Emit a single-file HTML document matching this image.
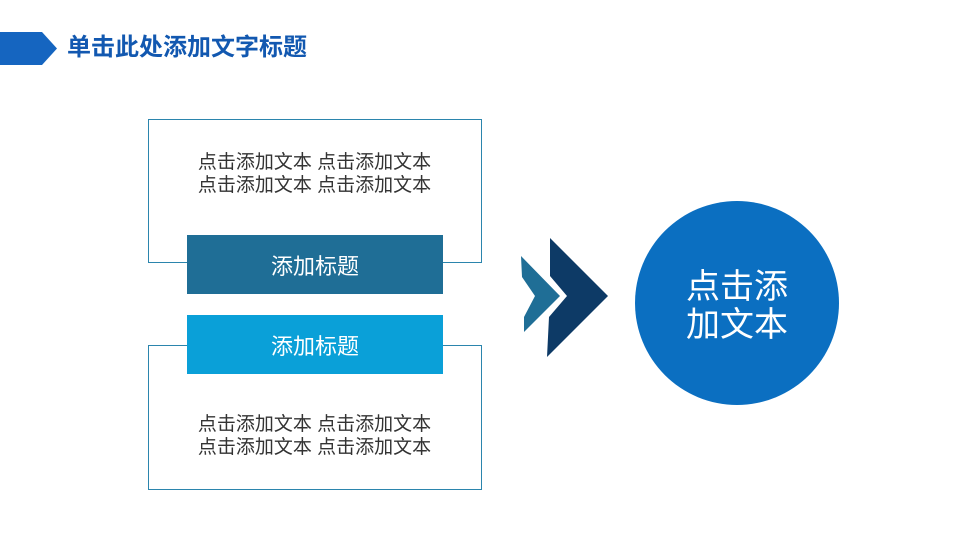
<!DOCTYPE html>
<html><head><meta charset="utf-8"><style>
body{margin:0;width:960px;height:540px;background:#fff;position:relative;overflow:hidden;font-family:"Liberation Sans","Noto Sans CJK SC",sans-serif}
.a{position:absolute}
.box{position:absolute;border:1px solid #2b85ad;box-sizing:border-box}
.t{position:absolute;left:148px;width:333px;text-align:center;font-size:19px;line-height:23px;color:#333}
.lab{position:absolute;left:187px;width:256px;height:59px;line-height:63px;text-align:center;color:#fff;font-size:22px}
</style></head><body>
<svg class="a" style="left:0;top:0" width="960" height="540">
<polygon points="0,32 42,32 57,48.5 42,65 0,65" fill="#1565c0"/>
<polygon points="521,256 560,296 524,332 524,317 535,296 522,277" fill="#1f6e96"/>
<polygon points="550,238 608,296 547,357 549,317 567,296 550,276" fill="#0d3a66"/>
<circle cx="737" cy="303" r="102" fill="#0b6fc1"/>
</svg>
<div class="a" style="left:67px;top:33px;font-size:24px;font-weight:bold;color:#1258b0;line-height:30px">单击此处添加文字标题</div>
<div class="box" style="left:148px;top:119px;width:334px;height:144px"></div>
<div class="box" style="left:148px;top:345px;width:334px;height:145px"></div>
<div class="t" style="top:151px">点击添加文本 点击添加文本<br>点击添加文本 点击添加文本</div>
<div class="t" style="top:413px">点击添加文本 点击添加文本<br>点击添加文本 点击添加文本</div>
<div class="lab" style="top:235px;background:#1f6e96">添加标题</div>
<div class="lab" style="top:315px;background:#0aa0d8">添加标题</div>
<div class="a" style="left:637px;top:268px;width:200px;text-align:center;color:#fff;font-size:34px;line-height:38px">点击添<br>加文本</div>
</body></html>
